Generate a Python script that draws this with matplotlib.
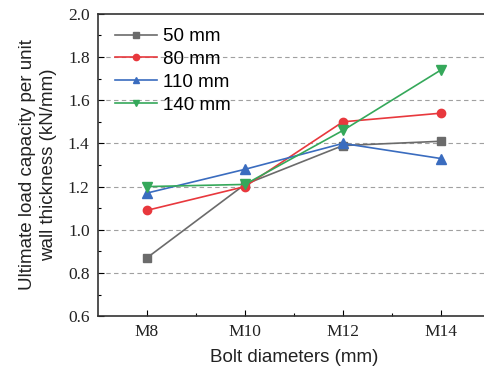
import matplotlib.pyplot as plt
from matplotlib.ticker import MultipleLocator, FixedLocator

bolts = ['M8', 'M10', 'M12', 'M14']
s50 = [0.87, 1.21, 1.39, 1.41]
s80 = [1.09, 1.20, 1.50, 1.54]
s110 = [1.17, 1.28, 1.40, 1.33]
s140 = [1.20, 1.21, 1.46, 1.74]

fig = plt.figure(figsize=(4.85, 3.75), dpi=100)
ax = fig.add_axes([0.202, 0.157, 0.808, 0.806])

x = range(len(bolts))
ax.plot(x, s50, color='#6b6b6b', marker='s', ms=5.5, lw=1.2, label='50 mm')
ax.plot(x, s80, color='#e8383d', marker='o', ms=6, lw=1.2, label='80 mm')
ax.plot(x, s110, color='#3a6cbf', marker='^', ms=6.5, lw=1.2, label='110 mm')
ax.plot(x, s140, color='#35a85a', marker='v', ms=6.5, lw=1.2, label='140 mm')

ax.set_xlim(-0.5, 3.5)
ax.set_ylim(0.6, 2.0)
ax.set_xticks(list(x))
ax.set_xticklabels(bolts)
ax.xaxis.set_minor_locator(FixedLocator([0.5, 1.5, 2.5]))
ax.yaxis.set_major_locator(MultipleLocator(0.2))
ax.yaxis.set_minor_locator(MultipleLocator(0.1))
ax.yaxis.set_major_formatter(plt.FormatStrFormatter('%.1f'))

for lab in ax.get_xticklabels() + ax.get_yticklabels():
    lab.set_family('Liberation Serif')
    lab.set_fontsize(12.5)
    lab.set_color('#222222')

ax.tick_params(which='both', direction='in', right=False, top=False)
ax.tick_params(which='major', length=4, width=0.8, pad=6)
ax.tick_params(which='minor', length=2.5, width=0.8)

for y in [0.8, 1.0, 1.2, 1.4, 1.6, 1.8]:
    ax.axhline(y, color='#a0a0a0', ls=(0, (4, 3)), lw=0.8, zorder=0)

for sp in ax.spines.values():
    sp.set_color('#333333')
    sp.set_linewidth(1.2)

ax.set_xlabel('Bolt diameters (mm)', family='Liberation Sans', fontsize=13.5,
              labelpad=6, color='#222222')
ax.set_ylabel('Ultimate load capacity per unit\nwall thickness (kN/mm)',
              family='Liberation Sans', fontsize=13.5, labelpad=8,
              color='#222222', linespacing=1.3)

ax.legend(loc='upper left', frameon=False,
          prop={'family': 'Liberation Sans', 'size': 13.5},
          handlelength=2.2, handletextpad=0.35, labelspacing=0.3,
          markerscale=0.75, borderaxespad=0.2, bbox_to_anchor=(0.016, 0.99))

fig.savefig('out.png', dpi=100)
